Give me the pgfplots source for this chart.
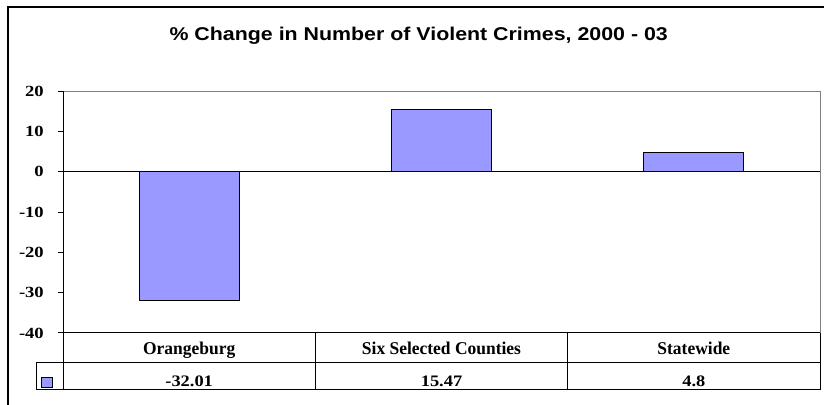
\documentclass[border=0pt]{standalone}
\usepackage{pgfplots}
\pgfplotsset{compat=1.18}
\usepackage{fontspec}
\setmainfont{Liberation Serif}[FakeStretch=1.15]
\newfontfamily\tickfont{Liberation Serif}[FakeStretch=1.2]
\newfontfamily\headfont{Liberation Serif}[FakeStretch=0.97]
\newfontfamily\titlefont{Liberation Sans}[FakeStretch=1.155]
\definecolor{barblue}{HTML}{9999FF}
\definecolor{framegray}{HTML}{808080}
\begin{document}
\begin{tikzpicture}
\useasboundingbox (0pt,0pt) rectangle (824pt,404pt);
\fill[white] (0pt,0pt) rectangle (824pt,404pt);
\draw[line width=1.5pt, black] (8pt,-10pt) -- (8pt,397pt) -- (840pt,397pt);
\node[anchor=base, inner sep=0pt, font=\titlefont\bfseries\fontsize{18.5}{22}\selectfont] at (418.7pt,363pt) {\% Change in Number of Violent Crimes, 2000 - 03};
\begin{axis}[at={(63pt,71pt)}, anchor=south west, scale only axis, width=757pt, height=242pt,
 xmin=-0.5, xmax=2.5, ymin=-40, ymax=20,
 ytick={-40,-30,...,20}, yticklabels={-40,-30,-20,-10,0,10,20},
 xtick=\empty,
 axis line style={draw=none},
 tick align=outside, ytick pos=left, major tick length=5pt,
 ytick style={black, line width=1pt},
 yticklabel style={font=\tickfont\bfseries\fontsize{15.5}{17}\selectfont, anchor=east, inner sep=0pt, xshift=-14pt},
 clip=false,
 ybar, bar width=100pt,
]
\addplot[fill=barblue, draw=black, line width=1pt] coordinates {(0,-32.01) (1,15.47) (2,4.8)};
\draw[black, line width=1pt] (axis cs:-0.5,0) -- (axis cs:2.5,0);
\draw[framegray, line width=1pt] (rel axis cs:0,1) -- (rel axis cs:1,1) -- (rel axis cs:1,0);
\draw[black, line width=1pt] (rel axis cs:0,1) -- (rel axis cs:0,0) -- (rel axis cs:1,0);
\node[anchor=base, inner sep=0pt, font=\headfont\bfseries\fontsize{18}{20}\selectfont, yshift=-22pt] at (axis cs:0,-40) {Orangeburg};
\node[anchor=base, inner sep=0pt, font=\headfont\bfseries\fontsize{18}{20}\selectfont, yshift=-22pt] at (axis cs:1,-40) {Six Selected Counties};
\node[anchor=base, inner sep=0pt, font=\headfont\bfseries\fontsize{18}{20}\selectfont, yshift=-22pt] at (axis cs:2,-40) {Statewide};
\node[anchor=base, inner sep=0pt, font=\bfseries\fontsize{16}{18}\selectfont, yshift=-53pt] at (axis cs:0,-40) {-32.01};
\node[anchor=base, inner sep=0pt, font=\bfseries\fontsize{16}{18}\selectfont, yshift=-53pt] at (axis cs:1,-40) {15.47};
\node[anchor=base, inner sep=0pt, font=\bfseries\fontsize{16}{18}\selectfont, yshift=-53pt] at (axis cs:2,-40) {4.8};
\end{axis}
\draw[black, line width=1pt] (36pt,41pt) -- (820pt,41pt);
\draw[black, line width=1pt] (36pt,14pt) -- (820pt,14pt);
\draw[black, line width=1pt] (36pt,14pt) -- (36pt,41pt);
\draw[black, line width=1pt] (63pt,14pt) -- (63pt,71pt);
\draw[black, line width=1pt] (315.3pt,14pt) -- (315.3pt,71pt);
\draw[black, line width=1pt] (567.7pt,14pt) -- (567.7pt,71pt);
\draw[black, line width=1pt] (820pt,14pt) -- (820pt,71pt);
\draw[black, line width=0.8pt, fill=barblue] (41pt,17pt) rectangle (52pt,27pt);
\end{tikzpicture}
\end{document}
